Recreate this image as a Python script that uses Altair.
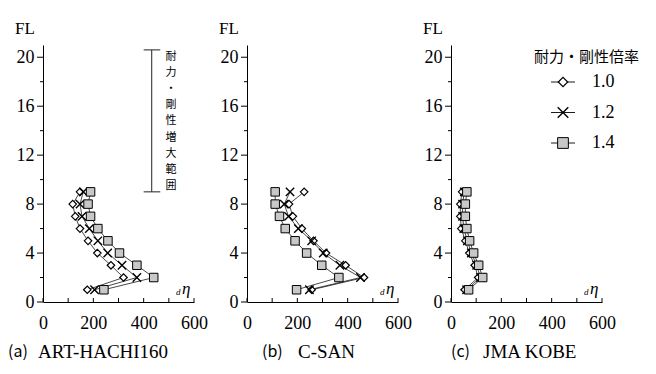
import altair as alt
import pandas as pd

# ---------------- data ----------------
floors = [1, 2, 3, 4, 5, 6, 7, 8, 9]
rates = ["1.0", "1.2", "1.4"]

panel_letters = ["(a)", "(b)", "(c)"]
panel_names = ["ART-HACHI160", "C-SAN", "JMA KOBE"]

a_10 = [176, 320, 270, 216, 179, 147, 128, 118, 147]
a_12 = [205, 373, 314, 257, 218, 184, 155, 147, 160]
a_14 = [242, 440, 373, 304, 258, 218, 189, 179, 189]

b_10 = [257, 465, 392, 314, 264, 218, 182, 167, 227]
b_12 = [248, 451, 369, 303, 257, 204, 165, 148, 171]
b_14 = [197, 365, 297, 237, 191, 152, 129, 112, 112]

c_10 = [54, 108, 94, 73, 57, 41, 37, 37, 44]
c_12 = [62, 117, 102, 81, 65, 51, 46, 46, 53]
c_14 = [70, 126, 110, 90, 74, 63, 57, 57, 63]

x_ticks = [0, 100, 200, 300, 400, 500, 600]
x_labels = [0, 200, 400, 600]
y_major = [0, 4, 8, 12, 16, 20]
y_minor = [2, 6, 10, 14, 18]

legend_title = "耐力・剛性倍率"
bracket_text = "耐力・剛性増大範囲"
bracket_lo, bracket_hi = 9, 20.6
bracket_x = 432
bracket_cap = [400, 466]

# ---------------- style ----------------
W, H = 151, 257
SERIF = "Liberation Serif"
GOTHIC = "Noto Sans CJK JP"

xs = alt.Scale(domain=[0, 600], nice=False, zero=False)
ys = alt.Scale(domain=[0, 21], nice=False, zero=False)

x_axis = alt.Axis(values=x_labels, ticks=False, tickSize=0, grid=False, title=None,
                  labelFont=SERIF, labelFontSize=18, labelColor="black", labelPadding=12,
                  domainColor="black", domainWidth=1, labelFlush=False)
y_axis = alt.Axis(values=y_major, ticks=False, tickSize=0, grid=False, title=None,
                  labelFont=SERIF, labelFontSize=18, labelColor="black", labelPadding=9,
                  domainColor="black", domainWidth=1, labelFlush=False)

STYLE = {
    "1.0": dict(shape="diamond", size=56, fill="white", strokeWidth=1.2),
    "1.2": dict(shape="M-1,-1L1,1M-1,1L1,-1", size=70, fill="transparent", strokeWidth=1.4),
    "1.4": dict(shape="square", size=72, fill="#c8c8c8", strokeWidth=1.0),
}

caption_pos = [(-35, -5), (15, 51), (0, 32)]


def text_layer(txt, x, y, font=SERIF, size=17, align="left", baseline="middle", style="normal"):
    return alt.Chart(pd.DataFrame({"t": [txt]})).mark_text(
        align=align, baseline=baseline, font=font, fontSize=size, fontStyle=style, color="black"
    ).encode(text="t:N", x=alt.value(x), y=alt.value(y))


def panel(series, idx, legend=False, bracket=False):
    rows = []
    for rate, vals in zip(rates, series):
        for f, v in zip(floors, vals):
            rows.append({"rate": rate, "FL": f, "eta": v})
    df = pd.DataFrame(rows)
    X = alt.X("eta:Q", scale=xs, axis=x_axis)
    Y = alt.Y("FL:Q", scale=ys, axis=y_axis)

    layers = []
    layers.append(alt.Chart(df).mark_line(color="#1a1a1a", strokeWidth=0.8).encode(
        x=X, y=Y, detail="rate:N", order="FL:Q"))
    for rate in rates:
        st = STYLE[rate]
        layers.append(alt.Chart(df).transform_filter(alt.datum.rate == rate).mark_point(
            shape=st["shape"], size=st["size"], filled=True, fill=st["fill"],
            stroke="black", strokeWidth=st["strokeWidth"], opacity=1
        ).encode(x=X, y=Y))

    # inward x ticks
    layers.append(alt.Chart(pd.DataFrame({"v": x_ticks})).mark_rule(color="black", strokeWidth=1).encode(
        x=alt.X("v:Q", scale=xs, axis=x_axis), y=alt.value(H), y2=alt.value(H - 4)))
    # outward y ticks
    layers.append(alt.Chart(pd.DataFrame({"v": y_major})).mark_rule(color="black", strokeWidth=1).encode(
        y=alt.Y("v:Q", scale=ys, axis=y_axis), x=alt.value(-6), x2=alt.value(0)))
    layers.append(alt.Chart(pd.DataFrame({"v": y_minor})).mark_rule(color="black", strokeWidth=1).encode(
        y=alt.Y("v:Q", scale=ys, axis=y_axis), x=alt.value(-3), x2=alt.value(0)))

    layers.append(text_layer("FL", -28, -16, size=17))
    layers.append(text_layer("d", 133, 250, size=9, baseline="alphabetic", style="italic"))
    layers.append(text_layer("η", 139, 249, size=17, baseline="alphabetic", style="italic"))

    lx, nx = caption_pos[idx]
    layers.append(text_layer(panel_letters[idx], lx, 307, font=GOTHIC, size=16))
    layers.append(text_layer(panel_names[idx], nx, 307, size=19))

    if bracket:
        bdf = pd.DataFrame({"x": [bracket_x], "lo": [bracket_lo], "hi": [bracket_hi],
                            "c0": [bracket_cap[0]], "c1": [bracket_cap[1]]})
        layers.append(alt.Chart(bdf).mark_rule(color="#222", strokeWidth=1).encode(
            x=alt.X("x:Q", scale=xs, axis=x_axis), y=alt.Y("lo:Q", scale=ys, axis=y_axis), y2="hi:Q"))
        layers.append(alt.Chart(bdf).mark_rule(color="#222", strokeWidth=1).encode(
            x=alt.X("c0:Q", scale=xs, axis=x_axis), x2="c1:Q", y=alt.Y("lo:Q", scale=ys, axis=y_axis)))
        layers.append(alt.Chart(bdf).mark_rule(color="#222", strokeWidth=1).encode(
            x=alt.X("c0:Q", scale=xs, axis=x_axis), x2="c1:Q", y=alt.Y("hi:Q", scale=ys, axis=y_axis)))
        chars = list(bracket_text)
        cdf = pd.DataFrame({"ch": chars, "py": [12 + 16.1 * i for i in range(len(chars))]})
        layers.append(alt.Chart(cdf).mark_text(
            align="center", baseline="middle", font=GOTHIC, fontSize=11, color="black"
        ).encode(text="ch:N", x=alt.value(128), y=alt.Y("py:Q", scale=None)))

    if legend:
        layers.append(text_layer(legend_title, 83, 12, font=GOTHIC, size=15))
        for i, rate in enumerate(rates):
            st = STYLE[rate]
            yy = 37 + 30.5 * i
            d1 = pd.DataFrame({"t": [rate]})
            layers.append(alt.Chart(d1).mark_rule(color="#1a1a1a", strokeWidth=1).encode(
                x=alt.value(100), x2=alt.value(124), y=alt.value(yy)))
            layers.append(alt.Chart(d1).mark_point(
                shape=st["shape"], size=st["size"] * 1.6, filled=True, fill=st["fill"],
                stroke="black", strokeWidth=st["strokeWidth"], opacity=1
            ).encode(x=alt.value(112), y=alt.value(yy)))
            layers.append(text_layer(rate, 141, yy, size=18))

    return alt.layer(*layers).properties(width=W, height=H)


pa = panel([a_10, a_12, a_14], 0, bracket=True)
pb = panel([b_10, b_12, b_14], 1)
pc = panel([c_10, c_12, c_14], 2, legend=True)

chart = alt.hconcat(pa, pb, pc, spacing=53, bounds="flush").properties(
    padding={"left": 0, "top": 12, "right": 0, "bottom": 0}
).configure_view(stroke=None)

chart.save("out.html", embed_options={"renderer": "svg", "actions": False})
